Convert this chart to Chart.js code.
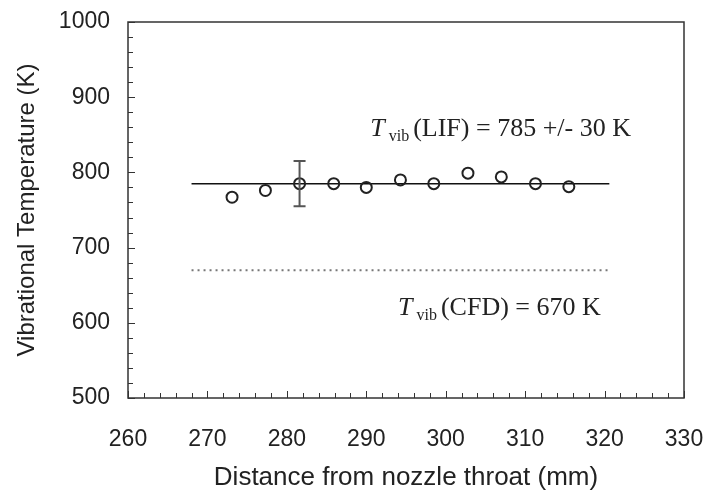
<!DOCTYPE html>
<html>
  <head>
    <meta charset="UTF-8">
    <title>Vibrational temperature</title>
    <script src="https://cdn.jsdelivr.net/npm/chart.js@4/dist/chart.umd.min.js"></script>
    <style>
      body { margin: 0; background: #fff; }
      #wrap { width: 709px; height: 493px; }
    </style>
  </head>
  <body>
    <div id="wrap"><canvas id="vib_chart" width="709" height="493"></canvas></div>
    <script>
      // measured points (LIF)
      const distance = [273.1, 277.3, 281.6, 285.9, 290.0, 294.3, 298.5, 302.8, 307.0, 311.3, 315.5];
      const tempLIF = [767, 776, 785, 785, 780, 790, 785, 799, 794, 785, 781];
      // one representative error bar
      const errX = [281.6];
      const errLow = [755];
      const errHigh = [815];
      // mean LIF line and CFD line
      const lifLineX = [268, 320.6];
      const lifLineY = [785, 785];
      const cfdLineX = [268, 320.5];
      const cfdLineY = [670, 670];
      const xTicks = [260, 270, 280, 290, 300, 310, 320, 330];
      const yTicks = [500, 600, 700, 800, 900, 1000];

      const axisColor = '#333';
      const textColor = '#222';

      const framePlugin = {
        id: 'frame',
        afterDatasetsDraw(chart) {
          const ctx = chart.ctx;
          const a = chart.chartArea;
          const xs = chart.scales.x;
          const ys = chart.scales.y;
          ctx.save();
          // frame
          ctx.strokeStyle = axisColor;
          ctx.lineWidth = 1.5;
          ctx.strokeRect(a.left, a.top, a.right - a.left, a.bottom - a.top);
          // inward ticks on x axis
          ctx.lineWidth = 1;
          for (let v = xTicks[0]; v <= xTicks[xTicks.length - 1]; v += 2) {
            const px = Math.round(xs.getPixelForValue(v)) + 0.5;
            const len = (v % 10 === 0) ? 7 : 5;
            ctx.beginPath();
            ctx.moveTo(px, a.bottom);
            ctx.lineTo(px, a.bottom - len);
            ctx.stroke();
          }
          // inward ticks on y axis
          for (let v = yTicks[0]; v <= yTicks[yTicks.length - 1]; v += 20) {
            const py = Math.round(ys.getPixelForValue(v)) + 0.5;
            const len = (v % 100 === 0) ? 7 : 5;
            ctx.beginPath();
            ctx.moveTo(a.left, py);
            ctx.lineTo(a.left + len, py);
            ctx.stroke();
          }
          // error bar
          ctx.strokeStyle = '#555';
          ctx.lineWidth = 2;
          errX.forEach((x, i) => {
            const px = xs.getPixelForValue(x);
            const top = ys.getPixelForValue(errHigh[i]);
            const bot = ys.getPixelForValue(errLow[i]);
            ctx.beginPath();
            ctx.moveTo(px, top); ctx.lineTo(px, bot);
            ctx.moveTo(px - 6, top); ctx.lineTo(px + 6, top);
            ctx.moveTo(px - 6, bot); ctx.lineTo(px + 6, bot);
            ctx.stroke();
          });
          // annotations
          const label = (x, y, rest) => {
            let px = xs.getPixelForValue(x);
            const py = ys.getPixelForValue(y);
            ctx.fillStyle = textColor;
            ctx.textBaseline = 'alphabetic';
            ctx.textAlign = 'left';
            ctx.font = 'italic 26px "Liberation Serif"';
            ctx.fillText('T', px, py);
            px += ctx.measureText('T').width + 4;
            ctx.font = '16px "Liberation Serif"';
            ctx.fillText('vib', px, py + 5);
            px += ctx.measureText('vib').width + 4;
            ctx.font = '26px "Liberation Serif"';
            ctx.fillText(rest, px, py);
          };
          label(290.5, 848, '(LIF) = 785 +/- 30 K');
          label(294.0, 611, '(CFD) = 670 K');
          ctx.restore();
        }
      };

      new Chart(document.getElementById('vib_chart').getContext('2d'), {
        type: 'scatter',
        data: {
          datasets: [
            {
              data: distance.map((x, i) => ({ x: x, y: tempLIF[i] })),
              pointStyle: 'circle',
              pointRadius: 5.5,
              pointBorderWidth: 2,
              pointBorderColor: '#222',
              pointBackgroundColor: 'rgba(0,0,0,0)',
              showLine: false,
              order: 1
            },
            {
              data: lifLineX.map((x, i) => ({ x: x, y: lifLineY[i] })),
              showLine: true,
              borderColor: '#111',
              borderWidth: 1.5,
              pointRadius: 0,
              order: 2
            },
            {
              data: cfdLineX.map((x, i) => ({ x: x, y: cfdLineY[i] })),
              showLine: true,
              borderColor: '#777',
              borderWidth: 2,
              borderDash: [2, 4],
              pointRadius: 0,
              order: 3
            }
          ]
        },
        options: {
          responsive: false,
          animation: false,
          layout: { padding: { top: 22, right: 25, left: 0, bottom: 0 } },
          plugins: {
            legend: { display: false },
            tooltip: { enabled: false }
          },
          scales: {
            x: {
              type: 'linear',
              min: 260,
              max: 330,
              afterBuildTicks: (scale) => { scale.ticks = xTicks.map(v => ({ value: v })); },
              afterFit: (scale) => { scale.height = 95; scale.paddingLeft = 0; scale.paddingRight = 0; },
              grid: { display: false, drawTicks: false },
              border: { display: false },
              ticks: {
                padding: 28,
                color: textColor,
                callback: (v) => String(v),
                font: { family: '"Liberation Sans", Arial', size: 23 }
              },
              title: {
                display: true,
                text: 'Distance from nozzle throat (mm)',
                color: textColor,
                font: { family: '"Liberation Sans", Arial', size: 26 },
                padding: { top: 0, bottom: 0 }
              }
            },
            y: {
              type: 'linear',
              min: 500,
              max: 1000,
              afterBuildTicks: (scale) => { scale.ticks = yTicks.map(v => ({ value: v })); },
              afterFit: (scale) => { scale.width = 128; scale.paddingTop = 0; scale.paddingBottom = 0; },
              grid: { display: false, drawTicks: false },
              border: { display: false },
              ticks: {
                padding: 18,
                color: textColor,
                callback: (v) => String(v),
                font: { family: '"Liberation Sans", Arial', size: 23 }
              },
              title: {
                display: true,
                text: 'Vibrational Temperature (K)',
                color: textColor,
                font: { family: '"Liberation Sans", Arial', size: 24 },
                padding: { top: 13, bottom: 0 }
              }
            }
          }
        },
        plugins: [framePlugin]
      });
    </script>
  </body>
</html>
